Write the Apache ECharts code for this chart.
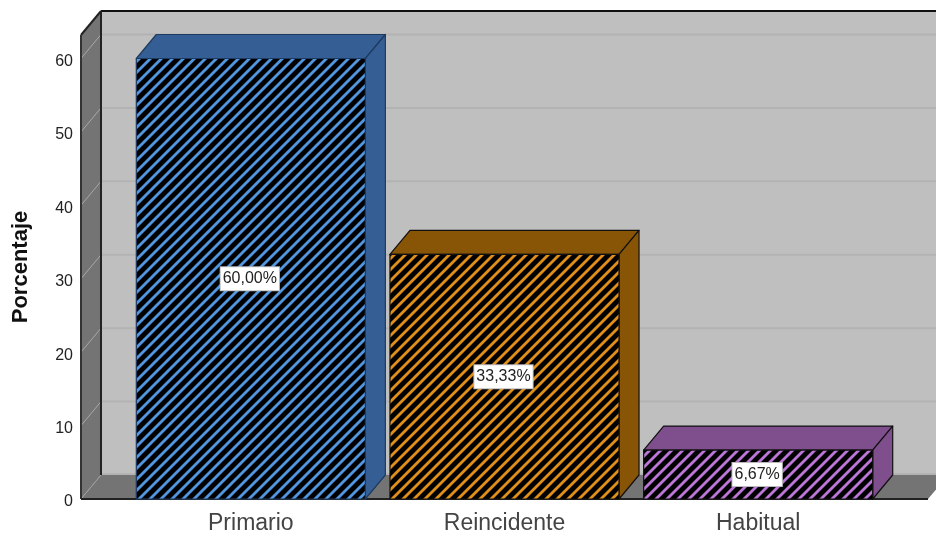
<!DOCTYPE html>
<html>
<head>
<meta charset="utf-8">
<style>html,body{margin:0;padding:0;background:#fff}#c{width:936px;height:533px}</style>
<script src="https://cdn.jsdelivr.net/npm/echarts@6/dist/echarts.min.js"></script>
</head>
<body>
<div id="c"></div>
<script>
const categories = ['Primario', 'Reincidente', 'Habitual'];
const values = [60.00, 33.33, 6.67];
const valueLabels = ['60,00%', '33,33%', '6,67%'];
const yTicks = [10, 20, 30, 40, 50, 60];
const stripeColors = ['#5296e0', '#e0901a', '#bb76d8'];
const sideColors = ['#355f94', '#885406', '#7f4e8c'];
const edgeColors = ['#1d3a60', '#111', '#111'];

const DX = 20, DY = 24, PAD = 43, YMAX = 63.2;
const FONT = '"Liberation Sans", Arial, sans-serif';

function hatch(color) {
  const s = 11, c = document.createElement('canvas');
  c.width = c.height = s;
  const g = c.getContext('2d');
  g.fillStyle = '#000'; g.fillRect(0, 0, s, s);
  g.strokeStyle = color; g.lineWidth = 2.8;
  [[-s, s, s, -s], [0, s, s, 0], [0, 2 * s, 2 * s, 0]].forEach(l => {
    g.beginPath(); g.moveTo(l[0], l[1]); g.lineTo(l[2], l[3]); g.stroke();
  });
  return { image: c, repeat: 'repeat' };
}
const patterns = stripeColors.map(hatch);

function renderWalls(params, api) {
  const cs = params.coordSys;
  const L = cs.x - PAD, R = cs.x + cs.width + PAD, B = cs.y + cs.height, T = cs.y;
  const kids = [];
  const poly = (pts, fill) => ({ type: 'polygon', shape: { points: pts }, style: { fill: fill } });
  const line = (x1, y1, x2, y2, col, lw) => ({
    type: 'line', shape: { x1, y1, x2, y2 }, style: { stroke: col, lineWidth: lw, fill: null }
  });
  kids.push(poly([[L + DX, T - DY], [R + DX, T - DY], [R + DX, B - DY], [L + DX, B - DY]], '#bfbfbf'));
  kids.push(poly([[L, T], [L + DX, T - DY], [L + DX, B - DY], [L, B]], '#747474'));
  kids.push(poly([[L, B], [L + DX, B - DY], [R + DX, B - DY], [R, B]], '#747474'));
  yTicks.forEach(t => {
    const y = api.coord([0, t])[1];
    kids.push(line(L + DX, y - DY, R + DX, y - DY, '#b3b3b3', 2));
    kids.push(line(L, y, L + DX, y - DY, '#a8a8a8', 1));
  });
  kids.push(line(L + DX, B - DY - 1, R + DX, B - DY - 1, '#b3b3b3', 2));
  kids.push(line(L, B, L + DX, B - DY, '#a0a0a0', 1));
  kids.push(line(L + DX, T - DY, R + DX, T - DY, '#111', 2));
  kids.push(line(L + DX, T - DY, L + DX, B - DY, '#222', 2));
  kids.push(line(L, T, L + DX, T - DY, '#222', 2));
  kids.push(line(L, T, L, B, '#333', 2));
  kids.push(line(L, B, R, B, '#222', 2));
  return { type: 'group', children: kids };
}

function renderBar(params, api) {
  const i = api.value(0), v = api.value(1);
  const p = api.coord([i, v]), base = api.coord([i, 0]);
  const w = api.size([1, 0])[0] * 0.903;
  const x0 = p[0] - w / 2, x1 = p[0] + w / 2, yT = p[1], yB = base[1];
  const edge = { stroke: edgeColors[i], lineWidth: 1.2, lineJoin: 'round' };
  const my = (yT + yB) / 2;
  return {
    type: 'group',
    children: [
      { type: 'polygon', shape: { points: [[x0, yT], [x0 + DX, yT - DY], [x1 + DX, yT - DY], [x1, yT]] },
        style: Object.assign({ fill: sideColors[i] }, edge) },
      { type: 'polygon', shape: { points: [[x1, yT], [x1 + DX, yT - DY], [x1 + DX, yB - DY], [x1, yB]] },
        style: Object.assign({ fill: sideColors[i] }, edge) },
      { type: 'rect', shape: { x: x0, y: yT, width: w, height: yB - yT },
        style: Object.assign({ fill: patterns[i] }, edge) },
      { type: 'text', x: p[0] - 1, y: my,
        style: { text: valueLabels[i], font: '16px ' + FONT, fill: '#222', align: 'center', verticalAlign: 'middle',
          backgroundColor: '#fff', borderColor: '#bbb', borderWidth: 1, padding: [4, 2, 3, 2] } }
    ]
  };
}

const chart = echarts.init(document.getElementById('c'), null, { renderer: 'canvas' });
chart.setOption({
  animation: false,
  backgroundColor: '#fff',
  grid: { left: 124, right: 51, top: 35, bottom: 34, outerBoundsMode: 'none' },
  xAxis: {
    type: 'category', data: categories,
    axisLine: { show: false }, axisTick: { show: false }, splitLine: { show: false },
    axisLabel: { color: '#444', fontFamily: FONT, fontSize: 23, margin: 13 }
  },
  yAxis: {
    type: 'value', min: 0, max: YMAX, interval: 10, offset: 43,
    name: 'Porcentaje', nameLocation: 'middle', nameGap: 49, nameRotate: 90,
    nameTextStyle: { color: '#111', fontFamily: FONT, fontSize: 22, fontWeight: 'bold' },
    axisLine: { show: false }, axisTick: { show: false }, splitLine: { show: false },
    axisLabel: { margin: 8, showMaxLabel: false, formatter: '{v|{value}}',
      rich: { v: { color: '#222', fontFamily: FONT, fontSize: 16, padding: [6, 0, 0, 0] } } }
  },
  series: [
    { type: 'custom', silent: true, z: 1, renderItem: renderWalls, data: [[0, 0]], encode: { x: 0, y: 1 } },
    { type: 'custom', z: 2, renderItem: renderBar,
      data: values.map((v, i) => [i, v]), encode: { x: 0, y: 1 } }
  ]
});
</script>
</body>
</html>
